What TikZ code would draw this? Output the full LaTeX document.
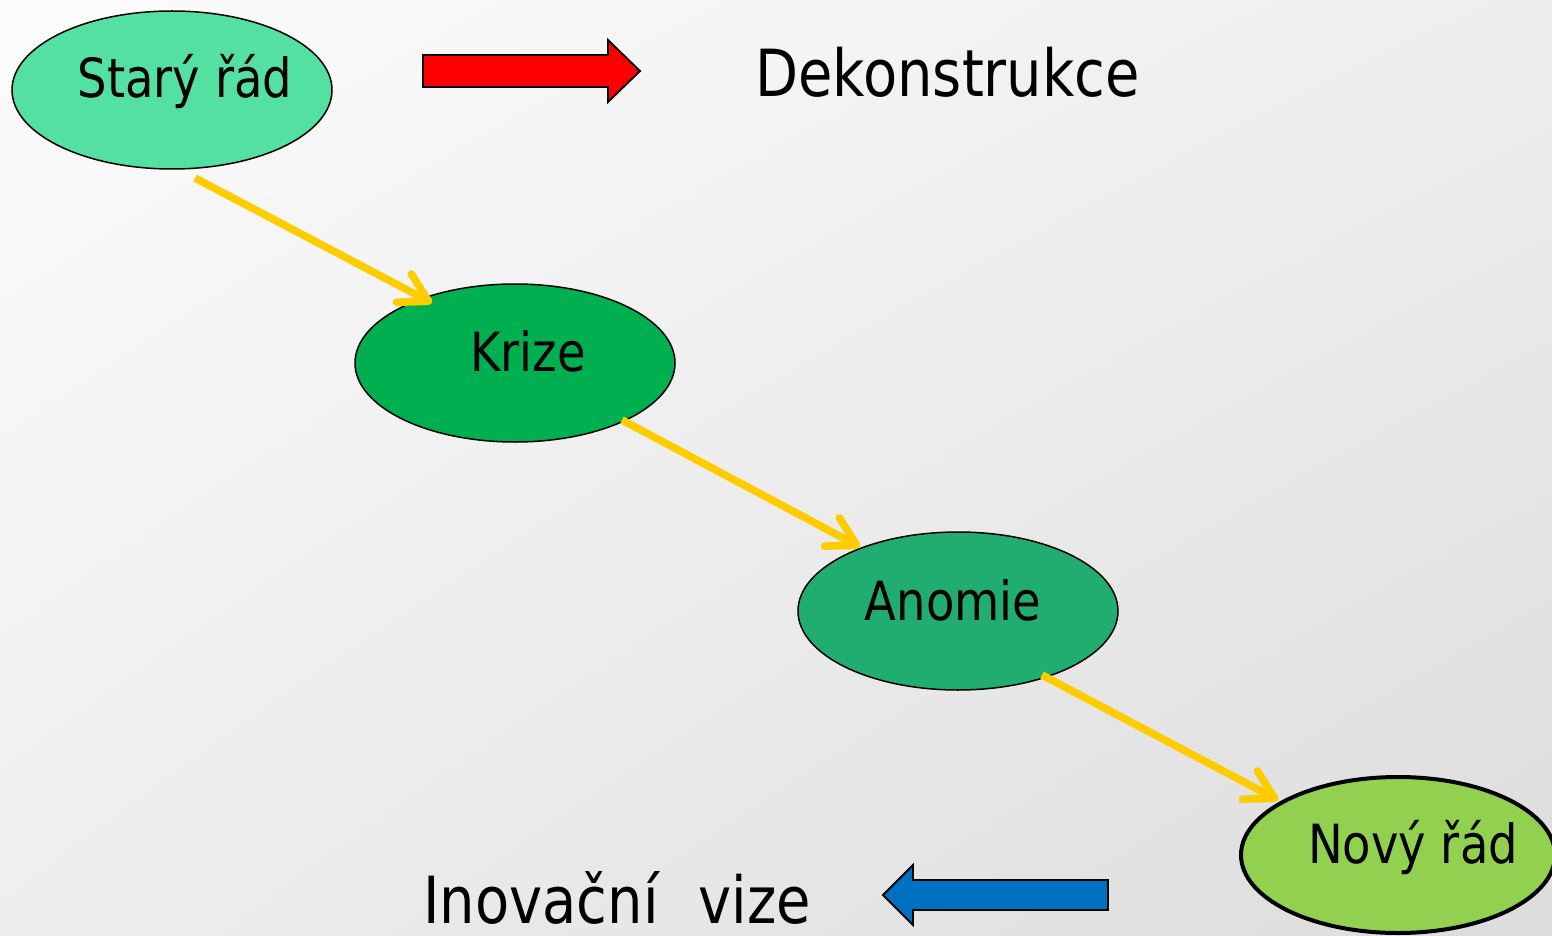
\documentclass[tikz,border=0pt]{standalone}
\usepackage{fontspec}
\setmainfont{DejaVu Sans}[FakeStretch=0.86]
\usetikzlibrary{shapes.geometric,arrows.meta,calc,shadings}
\definecolor{cstary}{HTML}{53E0A0}
\definecolor{ckrize}{HTML}{00B050}
\definecolor{canomie}{HTML}{21AD6F}
\definecolor{cnovy}{HTML}{92D050}
\definecolor{cyel}{HTML}{FFCC00}
\definecolor{cblue}{HTML}{0070C0}
\definecolor{bgA}{HTML}{FCFCFC}
\definecolor{bgB}{HTML}{EEEEEE}
\definecolor{bgC}{HTML}{DCDCDC}
\begin{document}
\begin{tikzpicture}[x=0.5pt,y=-0.5pt,
  oval/.style={ellipse, draw=black, line width=0.75pt, minimum width=160pt, minimum height=79pt, inner sep=0pt},
  lbl/.style={anchor=base, font=\fontsize{27pt}{32pt}\selectfont, inner sep=0pt},
  big/.style={anchor=base west, font=\fontsize{32.5pt}{38pt}\selectfont, inner sep=0pt},
  yarrow/.style={draw=cyel, line width=3.8pt, -{Straight Barb[length=14pt,width=16pt,round]}},
  block/.style={draw=black, line width=0.9pt, line join=miter}]
\useasboundingbox (0,0) rectangle (1552,936);
\clip (0,0) rectangle (1552,936);
\shade[upper left=bgA, upper right=bgB, lower left=bgB, lower right=bgC] (0,0) rectangle (1552,936);

\node[oval, fill=cstary] (s) at (172,90) {};
\node[oval, fill=ckrize] (k) at (515,363) {};
\node[oval, fill=canomie] (a) at (958,611) {};
\node[oval, fill=cnovy, line width=2pt, minimum width=157pt, minimum height=78pt] (n) at (1398,855) {};

\node[lbl] (ts) at (185,98) {Starý řád};
\node[lbl] (tk) at (528,371) {Krize};
\node[lbl] (ta) at (953,620) {Anomie};
\node[lbl] (tn) at (1413,863) {Nový řád};

\draw[yarrow] ($(s.center)+(23,88)$) -- ($(k.center)+(-83,-60)$);
\draw[yarrow] ($(k.center)+(107,57)$) -- ($(a.center)+(-98,-64)$);
\draw[yarrow] ($(a.center)+(84,64)$) -- ($(n.center)+(-120,-55)$);

\draw[block, fill=red] (423,55) -- (608,55) -- (608,40) -- (640,71) -- (608,102) -- (608,87) -- (423,87) -- cycle;
\draw[block, fill=cblue] (1108,880) -- (913,880) -- (913,865) -- (883,895) -- (913,925) -- (913,910) -- (1108,910) -- cycle;

\node[big] (dek) at (755,97) {Dekonstrukce};
\node[big] (ino) at (423,923) {Inovační\hspace{0.62em}vize};
\end{tikzpicture}
\end{document}
